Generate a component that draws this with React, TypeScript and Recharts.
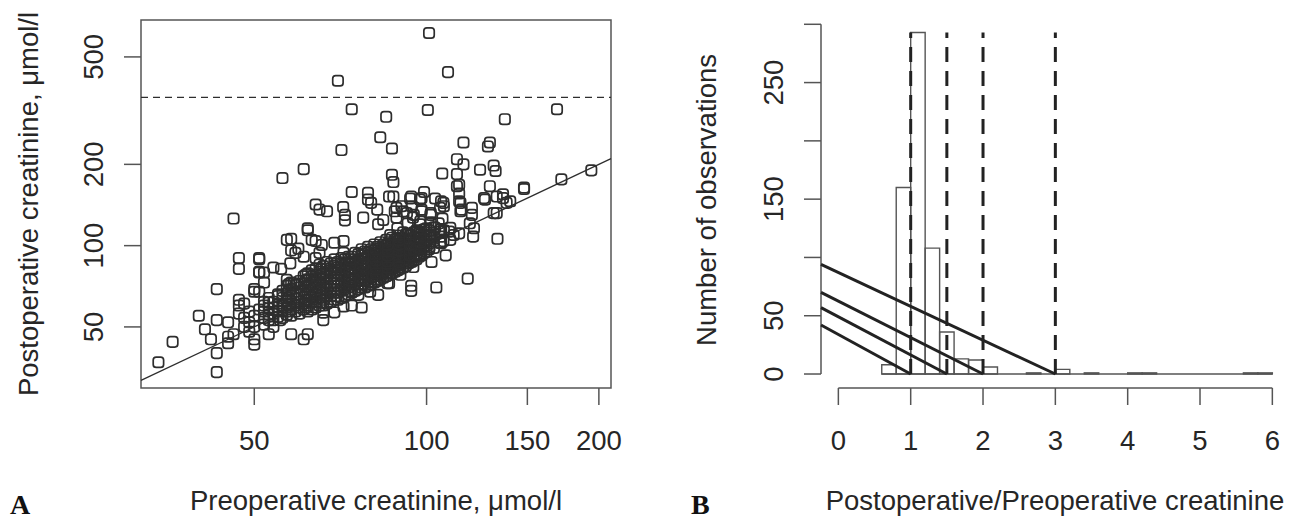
import React from "react";
import {
  ScatterChart, ComposedChart, Scatter, XAxis, YAxis,
  ReferenceLine, ReferenceArea,
} from "recharts";

const FONT = "'Liberation Sans', Arial, Helvetica, sans-serif";
const INK = "#262626";
const AXIS = "#555555";
const MARK = "#2e2e2e";

// ---------- panel A: pre- vs postoperative creatinine (log-log) ----------
const preDomain: [number, number] = [31.7, 210];
const postDomain: [number, number] = [29.7, 685];
const preTicks = [50, 100, 150, 200];
const postTicks = [50, 100, 200, 500];
const aki354 = 354;

// isolated points, read one by one
const outlierPairs: [number, number][] = [
  [101, 613], [109, 439], [70, 408], [74, 320], [100.5, 318], [169, 320], [85, 300], [137, 294],
  [83, 252], [116, 241], [129, 241], [128, 233], [87, 229], [71, 226], [113, 209], [116, 200],
  [131, 198], [132, 189], [124, 191], [61, 192], [194, 190], [106.5, 185], [113, 184], [87, 183],
  [56, 178], [172, 176], [87.5, 172], [113, 166], [129, 166], [148, 164], [148, 162], [114, 168],
  [114, 156], [74, 158], [79, 157], [87.5, 152], [94, 152], [98, 150], [99, 158], [86, 152],
  [136, 150], [140, 146], [126, 150], [131, 132], [133, 106], [118, 75.5], [104, 70], [94, 71],
  [94, 68], [102, 87], [108, 92], [107, 104], [120, 130], [121, 116], [120, 138], [119, 121],
  [114, 111], [114, 146], [115, 136], [106, 146], [98, 136], [46, 126], [43, 69], [47, 90],
  [47, 82], [40, 55], [41, 49], [43, 53], [42, 45], [43, 40], [43, 34], [36, 44], [34, 37],
  [52, 73], [51, 90], [51, 80], [50, 69], [58, 106], [62, 116], [64, 142], [65, 136], [67, 134],
  [71.5, 139], [72, 130], [72, 124],
];

// points round the edge of the dense band
const fringePairs: [number, number][] = [
  [57, 105], [58, 96], [59, 94], [62, 114], [63, 105], [64, 104], [65.6, 100.6], [65, 94], [64, 90],
  [69, 102.5], [71.6, 104], [71.6, 94], [77.5, 127], [82, 136], [82.3, 120], [84, 124.5], [79, 148],
  [80, 144], [88.6, 138], [90.4, 140], [93.6, 149.5], [94.2, 140], [97.4, 148], [98, 134],
  [101.7, 132], [106.6, 126], [107.2, 140], [88.6, 127], [92.4, 132], [94.7, 127], [97.4, 120],
  [101.7, 122], [103.5, 116.5], [107.2, 114], [110, 116.5], [110, 105], [105.6, 102.5], [101.2, 99],
  [103.5, 149.5], [105.6, 138], [107, 144], [114.6, 144], [114.6, 134], [120.6, 108], [126.5, 148],
  [132.6, 152], [136, 155], [138, 144], [132.6, 132],
  [88, 134], [91, 134], [95, 130], [97.5, 123], [101.6, 130], [105, 121], [106, 113], [101, 109.5],
  [96.6, 113], [93.6, 109.5], [92.7, 121], [88.9, 116], [86.4, 109.5], [109.6, 112.7], [111.5, 109.5],
  [94.8, 83.3], [90, 78], [87.5, 85], [51, 89], [51, 79.5], [52, 79.5], [50, 67.5], [51, 67.5],
  [47, 63], [48, 61], [45, 52], [46, 47], [45, 46], [45, 43.5], [47, 56], [48, 54], [47, 60],
  [48, 50], [49, 48], [50, 45], [50, 43], [53, 47], [54, 50], [55.5, 53], [58, 47], [61, 45],
  [62, 47], [66, 53], [66, 56.5], [71.6, 59.5], [74, 60], [77, 59], [76, 65.7], [79.7, 67.5],
  [82.3, 65.7], [86, 72.6], [69, 56.6], [85.5, 72.6], [54, 83], [55.7, 82], [57, 74.7],
  [58.6, 72.6], [59.7, 97.5], [61, 91], [57.8, 86],
  [49, 52], [50, 55], [51, 58], [52, 51], [53, 53], [50, 50], [52, 62], [49, 57], [53, 64], [55, 66],
];

// the black band: preoperative value per column, postoperative values in it
const bandPre = [52, 54, 56, 58, 60, 62, 64, 66, 68, 70, 72, 74, 76, 78, 80, 82, 84, 86, 88, 90, 92, 94, 96, 98, 100, 103, 106];
const bandPost = [
  [54, 57, 60], [53, 56, 59, 62], [54, 57, 60, 64, 68], [55, 58, 61, 65, 69, 73],
  [56, 59, 62, 66, 70, 74], [57, 60, 63, 67, 71, 75, 79], [59, 62, 66, 70, 74, 78, 82],
  [60, 63, 67, 71, 75, 79, 84], [62, 65, 69, 73, 77, 81, 86], [63, 67, 71, 75, 79, 83, 87],
  [65, 69, 73, 77, 81, 85, 89], [67, 71, 75, 79, 83, 87, 91], [69, 72, 76, 80, 84, 88, 93],
  [70, 74, 78, 82, 86, 90, 95], [72, 76, 80, 84, 88, 92, 97], [74, 78, 82, 86, 90, 94, 99],
  [76, 80, 84, 88, 92, 96, 101], [78, 82, 86, 90, 94, 98, 103], [80, 84, 88, 92, 96, 100, 105],
  [82, 86, 90, 94, 98, 102, 107], [84, 88, 92, 96, 100, 105, 110], [87, 91, 95, 99, 104, 109],
  [89, 93, 98, 103, 108, 114], [92, 97, 102, 107, 112], [95, 100, 105, 110, 116],
  [98, 104, 110, 117], [102, 108, 115],
];
// second, staggered set of columns inside the same band
const bandPreB = [53, 55, 57, 59, 61, 63, 65, 67, 69, 71, 73, 75, 77, 79, 81, 83, 85, 87, 89, 91, 93, 95, 97, 99, 101];
const bandPostB = [
  [55.5, 58.5, 61.5], [54.5, 57.5, 61, 65], [55.5, 59, 62.5, 66.5, 71], [57, 60, 63.5, 67.5, 71.5],
  [58, 61, 64.5, 68.5, 72.5, 77], [58, 61.5, 65, 69, 73, 77, 81], [60, 64, 68, 72, 76, 80, 85],
  [61, 65, 69, 73, 77, 82, 87], [63, 67, 71, 75, 79, 84, 89], [64, 68, 72, 77, 81, 85, 90],
  [66, 70, 74, 78, 82, 86, 91], [68, 72, 76, 80, 85, 89, 94], [70, 74, 78, 82, 87, 92, 97],
  [71, 75, 80, 84, 89, 94, 99], [73, 77, 81, 86, 91, 96, 101], [75, 79, 83, 88, 93, 98, 103],
  [77, 81, 85, 90, 95, 100, 105], [79, 83, 87, 92, 97, 102, 107], [81, 85, 90, 95, 100, 104, 109],
  [83, 87, 92, 97, 102, 107, 112], [86, 90, 94, 99, 104, 110], [88, 92, 97, 102, 107, 112],
  [91, 96, 101, 106, 111], [94, 99, 104, 109, 115], [97, 102, 108, 114],
];
// third set filling the gaps in the core of the band
const bandPreC = [57.5, 61.5, 65.5, 69.5, 73.5, 77.5, 81.5, 85.5, 89.5, 93.5, 97.5];
const bandPostC = [
  [57, 60.5, 64, 68, 72], [59, 62.5, 66, 70, 74, 78], [61.5, 65.5, 69.5, 73.5, 78, 82],
  [65, 69, 73, 77, 81, 86], [68, 72, 76, 80.5, 85, 89], [72, 76, 80, 84.5, 89, 93],
  [75, 79, 83.5, 88, 92.5, 97], [79, 83, 87.5, 92, 96.5, 101], [83, 87, 91.5, 96, 101, 105],
  [88, 92, 96.5, 101, 106], [93, 98, 103, 108],
];

const columnsToPairs = (xs: number[], ys: number[][]) =>
  xs.flatMap((x, i) => ys[i].map((y) => [x, y] as [number, number]));

const scatterRows = [
  ...outlierPairs,
  ...fringePairs,
  ...columnsToPairs(bandPre, bandPost),
  ...columnsToPairs(bandPreB, bandPostB),
  ...columnsToPairs(bandPreC, bandPostC),
].map(([x, y]) => ({ x, y }));

// ---------- panel B: histogram of the ratio ----------
const binLow = [0.6, 0.8, 1.0, 1.2, 1.4, 1.6, 1.8, 2.0, 2.2, 2.4, 2.6, 2.8, 3.0, 3.2, 3.4, 3.6, 3.8, 4.0, 4.2, 4.4, 4.6, 4.8, 5.0, 5.2, 5.4, 5.6, 5.8];
const binCount = [8, 160, 293, 108, 36, 13, 12, 6, 0, 0, 1, 0, 4, 0, 1, 0, 0, 1, 1, 0, 0, 0, 0, 0, 0, 1, 1];
const binWidth = 0.2;
const ratioCutoffs = [1, 1.5, 2, 3];
const slopeStarts = [42, 57, 70, 94];
const cutoffTop = 293;
const ratioDomain: [number, number] = [-0.24, 6.24];
const countDomain: [number, number] = [-12, 312];
const ratioTicks = [0, 1, 2, 3, 4, 5, 6];
const countTicks = [0, 50, 100, 150, 200, 250, 300];
const countLabels = [0, 50, 150, 250];

const textStyle = { fontFamily: FONT, fontSize: 27.5, fill: INK };

function Square(props: any) {
  const { cx, cy } = props;
  if (cx == null || cy == null) return null;
  return (
    <rect x={cx - 5.2} y={cy - 5.2} width={10.4} height={10.4} rx={3}
      fill="none" stroke={MARK} strokeWidth={1.7} />
  );
}

const bottomTick = (p: any) => (
  <text x={p.x} y={p.y + 45} textAnchor="middle" {...textStyle}>{p.payload.value}</text>
);

const leftTick = (show?: number[]) => (p: any) => {
  const v = p.payload.value;
  if (show && !show.includes(v)) return <g />;
  const bx = p.x - 21;
  return (
    <text x={bx} y={p.y} transform={`rotate(-90 ${bx} ${p.y})`} textAnchor="middle" {...textStyle}>{v}</text>
  );
};

function PanelA() {
  return (
    <ScatterChart width={650} height={529} margin={{ top: 20, right: 39, bottom: 0, left: 0 }}>
      <XAxis type="number" dataKey="x" scale="log" domain={preDomain} ticks={preTicks}
        allowDataOverflow interval={0} axisLine={false} height={141}
        tickSize={17} tickMargin={0} tickLine={{ stroke: AXIS, strokeWidth: 1.5 }} tick={bottomTick} />
      <YAxis type="number" dataKey="y" scale="log" domain={postDomain} ticks={postTicks}
        allowDataOverflow interval={0} axisLine={false} width={141}
        tickSize={17} tickMargin={0} tickLine={{ stroke: AXIS, strokeWidth: 1.5 }} tick={leftTick()} />
      <ReferenceArea x1={preDomain[0]} x2={preDomain[1]} y1={postDomain[0]} y2={postDomain[1]}
        fill="none" stroke={AXIS} strokeWidth={1.5} />
      <ReferenceLine y={aki354} stroke={MARK} strokeWidth={1.4} strokeDasharray="7 5" />
      <ReferenceLine segment={[{ x: preDomain[0], y: preDomain[0] }, { x: preDomain[1], y: preDomain[1] }]}
        stroke={MARK} strokeWidth={1.3} />
      <Scatter data={scatterRows} shape={<Square />} isAnimationActive={false} />
    </ScatterChart>
  );
}

function PanelB() {
  return (
    <ComposedChart width={645} height={529} margin={{ top: 10.3, right: 5.3, bottom: 0, left: 0 }}>
      <XAxis type="number" dataKey="x" domain={ratioDomain} ticks={ratioTicks}
        allowDataOverflow interval={0} axisLine={false} height={141}
        tickSize={17} tickMargin={0} tickLine={{ stroke: AXIS, strokeWidth: 1.5 }} tick={bottomTick} />
      <YAxis type="number" domain={countDomain} ticks={countTicks}
        allowDataOverflow interval={0} axisLine={false} width={171}
        tickSize={17} tickMargin={0} tickLine={{ stroke: AXIS, strokeWidth: 1.5 }} tick={leftTick(countLabels)} />
      {/* detached R-style axis lines */}
      <ReferenceLine segment={[{ x: ratioTicks[0], y: countDomain[0] }, { x: ratioTicks[ratioTicks.length - 1], y: countDomain[0] }]}
        stroke={AXIS} strokeWidth={1.5} />
      <ReferenceLine segment={[{ x: ratioDomain[0], y: countTicks[0] }, { x: ratioDomain[0], y: countTicks[countTicks.length - 1] }]}
        stroke={AXIS} strokeWidth={1.5} />
      {/* histogram */}
      <ReferenceLine segment={[{ x: binLow[0], y: 0 }, { x: binLow[binLow.length - 1] + binWidth, y: 0 }]}
        stroke={AXIS} strokeWidth={1.4} />
      {binLow.map((lo, i) => binCount[i] > 0 && (
        <ReferenceArea key={`b${i}`} x1={lo} x2={lo + binWidth} y1={0} y2={binCount[i]}
          fill="none" stroke={AXIS} strokeWidth={1.4} />
      ))}
      {ratioCutoffs.map((c) => (
        <ReferenceLine key={`v${c}`} segment={[{ x: c, y: 0 }, { x: c, y: cutoffTop }]}
          stroke="#222" strokeWidth={3} strokeDasharray="15 9" />
      ))}
      {ratioCutoffs.map((c, i) => (
        <ReferenceLine key={`d${c}`} segment={[{ x: ratioDomain[0], y: slopeStarts[i] }, { x: c, y: 0 }]}
          stroke="#222" strokeWidth={3} />
      ))}
    </ComposedChart>
  );
}

export default function App() {
  return (
    <div style={{ position: "absolute", left: 0, top: 0, width: 1295, height: 529, background: "#fff" }}>
      <div style={{ position: "absolute", left: 0, top: 0 }}><PanelA /></div>
      <div style={{ position: "absolute", left: 650, top: 0 }}><PanelB /></div>
      <svg width={1295} height={529} style={{ position: "absolute", left: 0, top: 0, pointerEvents: "none" }}>
        <text transform="translate(38 204) rotate(-90)" textAnchor="middle" {...textStyle}>
          Postoperative creatinine, μmol/l
        </text>
        <text x={376} y={510} textAnchor="middle" {...textStyle}>Preoperative creatinine, μmol/l</text>
        <text x={10} y={514} fontFamily="'Liberation Serif', 'Times New Roman', serif" fontWeight="bold" fontSize={28} fill="#111">A</text>
        <text transform="translate(716 200) rotate(-90)" textAnchor="middle" {...textStyle}>
          Number of observations
        </text>
        <text x={1055} y={510} textAnchor="middle" {...textStyle}>Postoperative/Preoperative creatinine</text>
        <text x={691} y={514} fontFamily="'Liberation Serif', 'Times New Roman', serif" fontWeight="bold" fontSize={28} fill="#111">B</text>
      </svg>
    </div>
  );
}
